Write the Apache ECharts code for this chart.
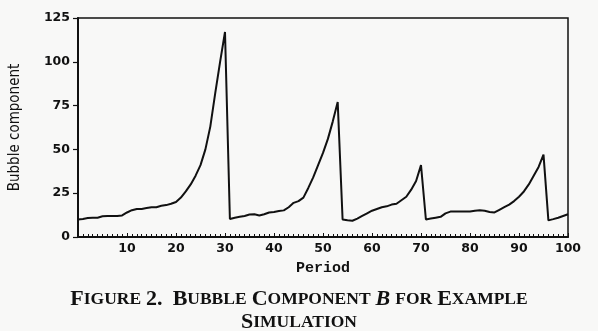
<!DOCTYPE html>
<html>
<head>
<meta charset="utf-8">
<script src="https://cdn.jsdelivr.net/npm/echarts@6/dist/echarts.min.js"></script>
<style>
  html, body { margin: 0; padding: 0; background: #f8f8f7; }
  #chart { width: 598px; height: 331px; }
</style>
</head>
<body>
<div id="chart"></div>
<script>
// bubble component B, periods 0..100
var bubbleValues = [
  10, 10.3, 10.8, 11, 11, 11.8, 12, 12, 12, 12.3,
  14, 15.3, 16, 16, 16.5, 17, 17, 17.8, 18.2, 19,
  20, 22.5, 26, 30, 35, 41, 50, 63, 82, 100,
  117, 10.3, 11, 11.5, 12, 12.8, 13, 12.3, 13, 14,
  14.3, 14.8, 15.2, 17, 19.5, 20.5, 22.5, 28, 34, 41,
  48, 56, 66, 77, 10, 9.5, 9.3, 10.5, 12, 13.5,
  15, 16, 17, 17.5, 18.5, 19, 21, 23, 27, 32,
  41, 10, 10.5, 11, 11.5, 13.5, 14.5, 14.5, 14.5, 14.5,
  14.5, 15, 15.3, 15, 14.3, 14, 15.5, 17, 18.5, 20.5,
  23, 26, 30, 35, 40, 47, 9.5, 10.2, 11, 12,
  13
];
var xTicks = [10, 20, 30, 40, 50, 60, 70, 80, 90, 100];
var yTicks = [0, 25, 50, 75, 100, 125];

var seriesData = bubbleValues.map(function (v, i) { return [i, v]; });

var chart = echarts.init(document.getElementById('chart'));

var tickFont = {
  color: '#111',
  fontFamily: 'DejaVu Sans',
  fontWeight: 'bold',
  fontSize: 12.5
};

chart.setOption({
  animation: false,
  backgroundColor: '#f8f8f7',
  title: {
    left: 'center',
    top: 283,
    text: '{b|F}{s|IGURE} {b|2.}  {b|B}{s|UBBLE} {b|C}{s|OMPONENT} {i|B} {s|FOR} {b|E}{s|XAMPLE}\n{b|S}{s|IMULATION}',
    textStyle: {
      rich: {
        b: { fontFamily: 'Liberation Serif', fontSize: 22, color: '#111', lineHeight: 23 },
        s: { fontFamily: 'Liberation Serif', fontSize: 17.5, color: '#111', lineHeight: 23 },
        i: { fontFamily: 'Liberation Serif', fontSize: 22, fontStyle: 'italic', color: '#111', lineHeight: 23 }
      }
    }
  },
  grid: {
    left: 77,
    right: 30,
    top: 18,
    bottom: 94,
    show: true,
    borderColor: '#111',
    borderWidth: 1.5,
    backgroundColor: 'transparent'
  },
  xAxis: {
    type: 'value',
    min: 0,
    max: 100,
    interval: 10,
    name: 'Period',
    nameLocation: 'middle',
    nameGap: 24,
    nameTextStyle: {
      color: '#111',
      fontFamily: 'Liberation Mono',
      fontWeight: 'bold',
      fontSize: 15
    },
    axisLine: { show: true, lineStyle: { color: '#111', width: 2 } },
    axisTick: { show: true, inside: true, length: 4, lineStyle: { color: '#111', width: 1 } },
    minorTick: { show: true, splitNumber: 10, length: 3, lineStyle: { color: '#111', width: 1 } },
    splitLine: { show: false },
    axisLabel: Object.assign({
      margin: 5,
      formatter: function (v) { return xTicks.indexOf(v) >= 0 ? String(v) : ''; }
    }, tickFont)
  },
  yAxis: {
    type: 'value',
    min: 0,
    max: 125,
    interval: 25,
    name: 'Bubble component',
    nameLocation: 'middle',
    nameGap: 55,
    nameTextStyle: {
      color: '#111',
      fontFamily: 'DejaVu Sans Condensed',
      fontSize: 15
    },
    axisLine: { show: true, lineStyle: { color: '#111', width: 2 } },
    axisTick: { show: true, length: 5, lineStyle: { color: '#111', width: 1.2 } },
    splitLine: { show: false },
    axisLabel: Object.assign({
      margin: 8,
      formatter: function (v) { return yTicks.indexOf(v) >= 0 ? String(v) : ''; }
    }, tickFont)
  },
  series: [{
    type: 'line',
    data: seriesData,
    showSymbol: false,
    symbol: 'none',
    lineStyle: { color: '#111', width: 2 }
  }]
});
</script>
</body>
</html>
